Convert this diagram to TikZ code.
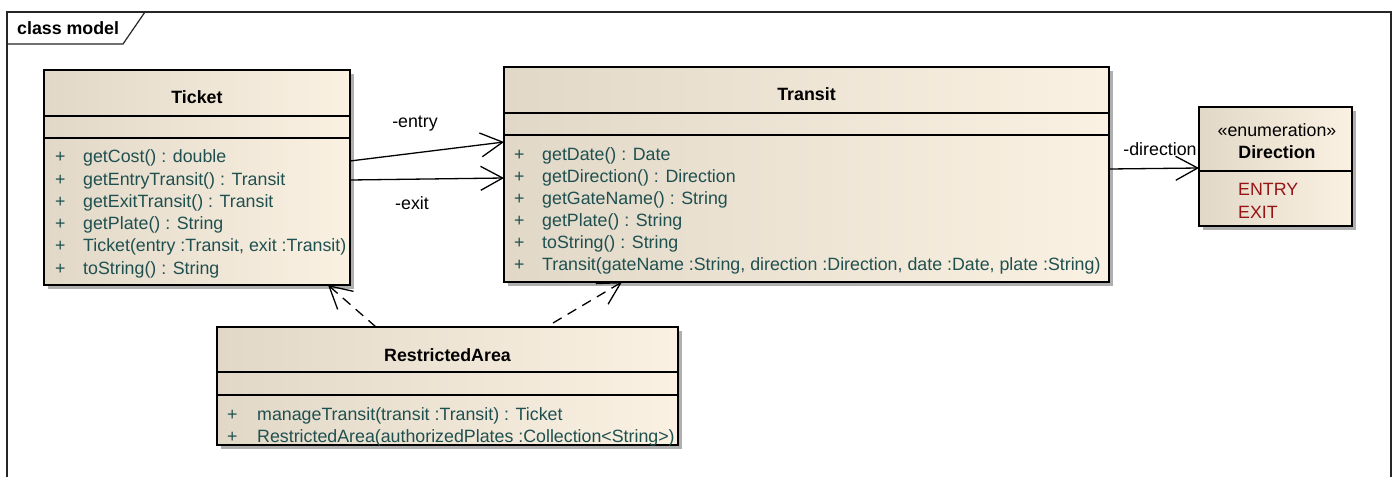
\documentclass[tikz,border=0pt]{standalone}
\usepackage{fontspec}
\setmainfont{Liberation Sans}
\usetikzlibrary{arrows.meta,shadows}
\definecolor{boxL}{RGB}{226,216,200}
\definecolor{boxR}{RGB}{251,241,226}
\definecolor{shgray}{RGB}{175,175,175}
\definecolor{optext}{RGB}{30,80,80}
\definecolor{litred}{RGB}{150,20,20}
\newcommand{\dfont}{\fontsize{17.8}{20}\selectfont}
\tikzset{
  cls/.style={draw=black, line width=1.5pt, left color=boxL, right color=boxR,
    drop shadow={shadow xshift=4pt, shadow yshift=-4pt, fill=shgray, opacity=1},
    inner sep=0pt, outer sep=0pt, anchor=north west},
  comp/.style={line width=1.5pt},
  op/.style={anchor=base west, inner sep=0pt, text=optext, font=\dfont},
  lit/.style={anchor=base west, inner sep=0pt, text=litred, font=\dfont},
  ttl/.style={anchor=base, inner sep=0pt, font=\bfseries\dfont},
  stereo/.style={anchor=base, inner sep=0pt, font=\dfont},
  lbl/.style={anchor=base, inner sep=0pt, font=\dfont},
  assoc/.style={line width=1.3pt, -{Straight Barb[length=22pt,width=24pt,line width=1.3pt]}},
  dep/.style={assoc, dash pattern=on 10pt off 7pt},
  frame/.style={line width=1.2pt, draw=black!85}
}
\begin{document}
\begin{tikzpicture}[x=1pt,y=-1pt]
\useasboundingbox (0,0) rectangle (1394,477);
\fill[white] (0,0) rectangle (1394,477);
% frame
\draw[frame] (7,477) -- (7,12) -- (1391,12) -- (1391,477);
\draw[frame] (7,44) -- (123,44) -- (145,12);
\node[anchor=base west, inner sep=0pt, font=\bfseries\dfont] (title) at (17,34) {class model};

% Ticket
\node[cls, minimum width=306pt, minimum height=215pt] (ticket) at (44,70) {};
\draw[comp] (ticket.west |- 0,116) -- (ticket.east |- 0,116);
\draw[comp] (ticket.west |- 0,138) -- (ticket.east |- 0,138);
\node[ttl] (ticketname) at (197,103) {Ticket};
\foreach \t [count=\i] in {{getCost() : double},{getEntryTransit() : Transit},{getExitTransit() : Transit},{getPlate() : String},{Ticket(entry :Transit, exit :Transit)},{toString() : String}}
  \node[op] (tk\i) at (55,{140.4+22.3*\i}) {\makebox[28pt][l]{+}\t};

% Transit
\node[cls, minimum width=605pt, minimum height=215pt] (transit) at (504,67) {};
\draw[comp] (transit.west |- 0,113) -- (transit.east |- 0,113);
\draw[comp] (transit.west |- 0,135) -- (transit.east |- 0,135);
\node[ttl] (transitname) at (806.5,100) {Transit};
\foreach \t [count=\i] in {{getDate() : Date},{getDirection() : Direction},{getGateName() : String},{getPlate() : String},{toString() : String},{Transit(gateName :String, direction :Direction, date :Date, plate :String)}}
  \node[op] (tr\i) at (514,{138+22*\i}) {\makebox[28pt][l]{+}\t};

% Direction
\node[cls, minimum width=153pt, minimum height=119pt] (direction) at (1199,107) {};
\draw[comp] (direction.west |- 0,171) -- (direction.east |- 0,171);
\node[stereo] (dirst) at (1277,136) {«enumeration»};
\node[ttl] (dirname) at (1277,158) {Direction};
\node[lit] (entrylit) at (1238,195) {ENTRY};
\node[lit] (exitlit) at (1238,218) {EXIT};

% RestrictedArea
\node[cls, minimum width=461pt, minimum height=118pt] (ra) at (217,327) {};
\draw[comp] (ra.west |- 0,372) -- (ra.east |- 0,372);
\draw[comp] (ra.west |- 0,395) -- (ra.east |- 0,395);
\node[ttl] (raname) at (447.5,361) {RestrictedArea};
\node[op] (ra1) at (227,420) {\makebox[30pt][l]{+}manageTransit(transit :Transit) : Ticket};
\node[op] (ra2) at (227,442) {\makebox[30pt][l]{+}RestrictedArea(authorizedPlates :Collection<String>)};

% associations
\draw[assoc] ([yshift=-91pt]ticket.north east) -- ([yshift=-75pt]transit.north west);
\draw[assoc] ([yshift=-110pt]ticket.north east) -- ([yshift=-111pt]transit.north west);
\draw[assoc] ([yshift=-102pt]transit.north east) -- ([yshift=-61pt]direction.north west);
\node[lbl] (lentry) at (415,127) {-entry};
\node[lbl] (lexit) at (412,209) {-exit};
\node[lbl] (ldir) at (1160,155) {-direction};

% dependencies
\draw[dep] ([xshift=159pt]ra.north west) -- ([xshift=284pt]ticket.south west);
\draw[dep] ([xshift=336pt,yshift=4pt]ra.north west) -- ([xshift=118pt]transit.south west);
\end{tikzpicture}
\end{document}
